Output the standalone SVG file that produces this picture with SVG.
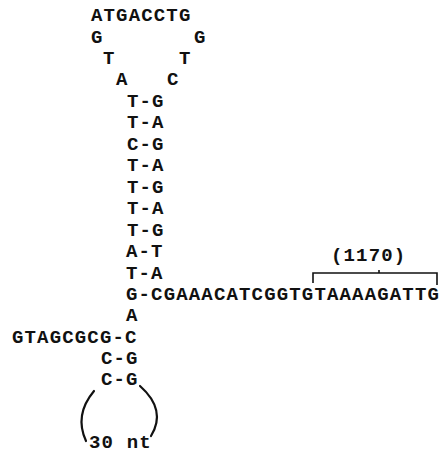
<svg xmlns="http://www.w3.org/2000/svg" width="447" height="454" viewBox="0 0 447 454">
<style>
text{font-family:"Liberation Mono","DejaVu Sans Mono",monospace;font-size:19px;font-weight:bold;letter-spacing:1.16px;fill:#111}
.ln{fill:none;stroke:#111;stroke-width:2.2;stroke-linecap:round}
.br{fill:none;stroke:#111;stroke-width:1.6}
</style>
<rect width="447" height="454" fill="#fff"/>
<g id="loop">
<text x="91" y="21">ATGACCTG</text>
<text x="91" y="42.5">G</text><text x="194" y="42.5">G</text>
<text x="103" y="64">T</text><text x="179" y="64">T</text>
<text x="116" y="85.4">A</text><text x="167" y="85.4">C</text>
</g>
<g id="stem">
<text x="127" y="106.8">T-G</text>
<text x="127" y="128.3">T-A</text>
<text x="127" y="149.8">C-G</text>
<text x="127" y="171.2">T-A</text>
<text x="127" y="192.7">T-G</text>
<text x="127" y="214.1">T-A</text>
<text x="127" y="235.6">T-G</text>
<text x="126" y="257.1">A-T</text>
<text x="126" y="278.5">T-A</text>
</g>
<g id="tail">
<text x="126" y="300">G-CGAAACATCGGTGTAAAAGATTG</text>
<text x="331" y="261">(1170)</text>
</g>
<g id="lower-stem">
<text x="126" y="321">A</text>
<text x="12" y="342.5">GTAGCGCG-C</text>
<text x="101" y="363.5">C-G</text>
<text x="101" y="384.5">C-G</text>
<text x="89" y="448">30 nt</text>
</g>
<g id="connectors">
<path class="br" d="M313 283 V273 H437 V285 M379 273 V270"/>
<path class="ln" d="M94 391 Q74 415 86 441"/>
<path class="ln" d="M140 386 Q167 410 151 436"/>
</g>
</svg>
